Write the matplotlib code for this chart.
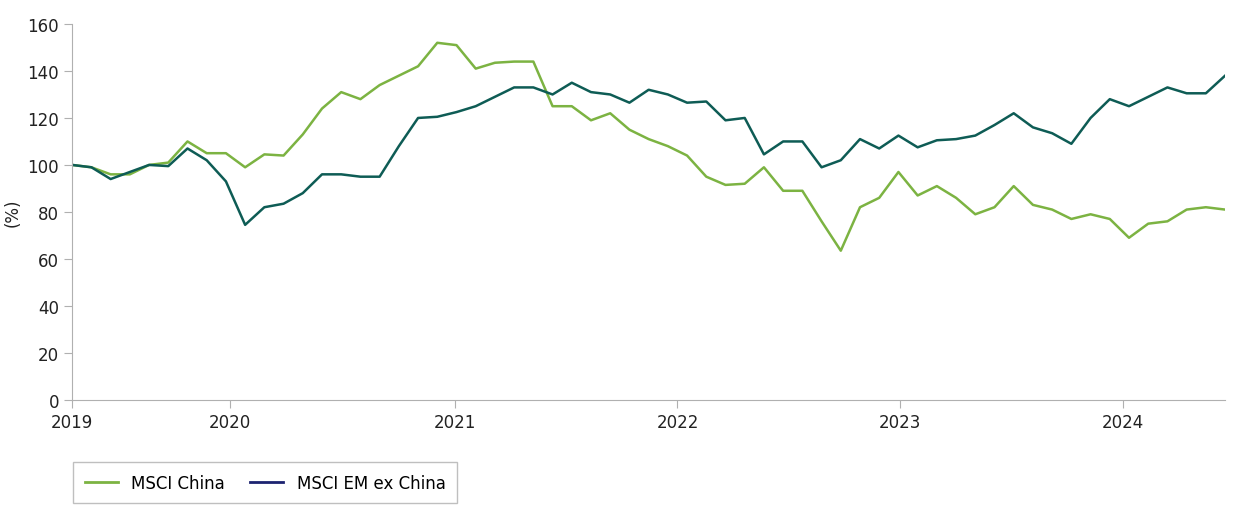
import numpy as np
import matplotlib.pyplot as plt
from matplotlib.lines import Line2D

# monthly index levels (rebased to 100)
msci_china = [100, 99, 96, 96, 100, 101, 110, 105, 105,
              99, 104.5, 104, 113, 124, 131, 128, 134, 138, 142,
              152, 151, 141, 143.5, 144, 144, 125, 125, 119, 122,
              115, 111, 108, 104, 95, 91.5, 92, 99, 89, 89,
              76, 63.5, 82, 86, 97, 87, 91, 86, 79, 82,
              91, 83, 81, 77, 79, 77, 69, 75, 76, 81,
              82, 81]
msci_em_ex_china = [100, 99, 94, 97, 100, 99.5, 107, 102, 93,
                    74.5, 82, 83.5, 88, 96, 96, 95, 95, 108, 120,
                    120.5, 122.5, 125, 129, 133, 133, 130, 135, 131, 130,
                    126.5, 132, 130, 126.5, 127, 119, 120, 104.5, 110, 110,
                    99, 102, 111, 107, 112.5, 107.5, 110.5, 111, 112.5, 117,
                    122, 116, 113.5, 109, 120, 128, 125, 129, 133, 130.5,
                    130.5, 138]
year_labels = ["2019", "2020", "2021", "2022", "2023", "2024"]
year_pos = [0, 8.2, 19.9, 31.5, 43.1, 54.7]

x = np.arange(len(msci_china))
green = "#7cb342"
teal = "#0e5c55"
grey = "#b0b0b0"

fig = plt.figure(figsize=(12.45, 5.10), dpi=100)
ax = fig.add_axes([0.058, 0.214, 0.926, 0.737])
ax.plot(x, msci_china, color=green, lw=1.8)
ax.plot(x, msci_em_ex_china, color=teal, lw=1.8)

ax.set_xlim(0, len(x) - 1)
ax.set_ylim(0, 160)
ax.set_yticks(range(0, 161, 20))
ax.set_xticks(year_pos)
ax.set_xticklabels(year_labels)
ax.set_ylabel("(%)", fontsize=12, color="#222222")
for s in ["top", "right"]:
    ax.spines[s].set_visible(False)
for s in ["left", "bottom"]:
    ax.spines[s].set_color(grey)
ax.tick_params(colors=grey, labelcolor="#222222", labelsize=12, length=6)

# legend: navy swatch for EM, as in the original
handles = [Line2D([], [], color=green, lw=2), Line2D([], [], color="#1c2370", lw=2)]
leg = fig.legend(handles, ["MSCI China", "MSCI EM ex China"], loc="lower left",
                 bbox_to_anchor=(0.052, -0.005), ncol=2, fontsize=12, frameon=True,
                 fancybox=False, edgecolor=grey, handlelength=2.0, columnspacing=1.5,
                 borderpad=0.7)
leg.get_frame().set_linewidth(1)

fig.savefig("out.png")
